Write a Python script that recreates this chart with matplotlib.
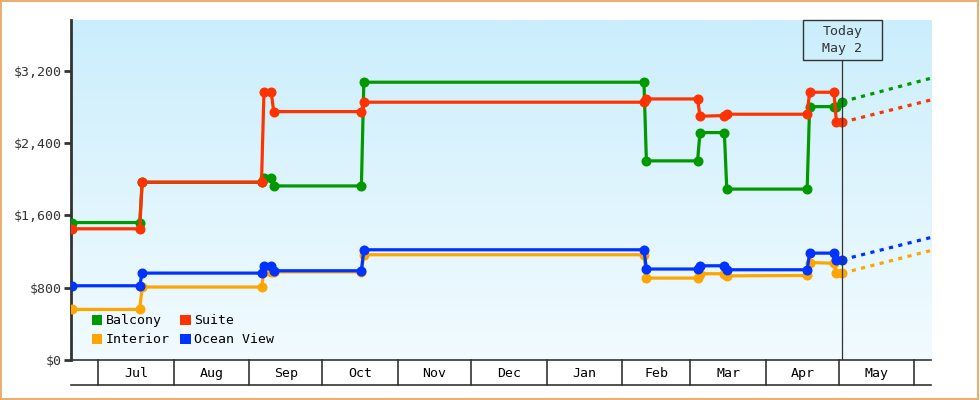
import matplotlib
matplotlib.use("Agg")
import matplotlib.pyplot as plt
import matplotlib.dates as mdates
from matplotlib.patches import Rectangle, Patch
from matplotlib.colors import LinearSegmentedColormap
import numpy as np
import pandas as pd

# --- data ---
dates = pd.to_datetime([
    "2022-06-20", "2022-07-18", "2022-07-19", "2022-09-06", "2022-09-07",
    "2022-09-10", "2022-09-11", "2022-10-17", "2022-10-18", "2023-02-10",
    "2023-02-11", "2023-03-04", "2023-03-05", "2023-03-15", "2023-03-16",
    "2023-04-18", "2023-04-19", "2023-04-29", "2023-04-30", "2023-05-02 12:00",
], format="ISO8601")
balcony = [1520, 1520, 1965, 1965, 2015, 2015, 1925, 1925, 3072, 3072,
           2202, 2202, 2515, 2515, 1890, 1890, 2802, 2802, 2802, 2858]
suite = [1451, 1451, 1967, 1967, 2961, 2961, 2747, 2747, 2851, 2851,
         2887, 2887, 2696, 2703, 2718, 2718, 2961, 2961, 2630, 2630]
interior = [559, 559, 807, 807, 972, 972, 975, 975, 1164, 1164,
            906, 906, 954, 954, 930, 935, 1078, 1070, 961, 961]
ocean_view = [821, 821, 961, 961, 1042, 1042, 987, 987, 1219, 1219,
              1006, 1006, 1042, 1042, 998, 998, 1182, 1182, 1110, 1110]

today = pd.Timestamp("2023-05-02 12:00")
today_label = "Today\nMay 2"
forecast_date = pd.Timestamp("2023-06-07 20:00")
forecast = {"Balcony": 3116, "Suite": 2876, "Interior": 1211, "Ocean View": 1355}

series = {"Balcony": balcony, "Suite": suite, "Interior": interior, "Ocean View": ocean_view}
colors = {"Balcony": "#009900", "Suite": "#ff3300", "Interior": "#ffa500", "Ocean View": "#0033ff"}

yticks = [0, 800, 1600, 2400, 3200]
x_start = pd.Timestamp("2022-06-19 19:00")
x_end = forecast_date

mono = "DejaVu Sans Mono"
dark = "#333333"

fig = plt.figure(figsize=(9.8, 4.0), dpi=100)
ax = fig.add_axes([71 / 980, 40 / 400, 860 / 980, 340 / 400])

# gradient background
cmap = LinearSegmentedColormap.from_list("bg", ["#cbeefc", "#f2fbff"])
ax.imshow(np.linspace(0, 1, 256).reshape(-1, 1), cmap=cmap, aspect="auto",
          extent=[0, 1, 0, 1], transform=ax.transAxes, zorder=0)

# draw order: orange, blue under green/red like the reference
for name in ["Interior", "Ocean View", "Balcony", "Suite"]:
    vals = series[name]
    ax.plot(dates, vals, color=colors[name], lw=2.3, marker="o", ms=6.2,
            solid_joinstyle="miter", zorder=3)
    ax.plot([dates[-1], forecast_date], [vals[-1], forecast[name]],
            color=colors[name], lw=2.3, dashes=(1.3, 1.7), zorder=3)

ax.set_xlim(x_start, x_end)
ax.set_ylim(0, 3760)

# y axis
ax.set_yticks(yticks)
ax.set_yticklabels(["${:,}".format(v) for v in yticks], fontfamily=mono,
                   fontsize=9.5, color=dark)
ax.tick_params(axis="y", length=5, width=2, color=dark, pad=2)
ax.set_xticks([])
for s in ["top", "right"]:
    ax.spines[s].set_visible(False)
ax.spines["left"].set_color(dark)
ax.spines["left"].set_linewidth(2)
ax.spines["bottom"].set_color(dark)
ax.spines["bottom"].set_linewidth(1.2)

# month band below the axis
band = 25 / 340
trans = ax.get_xaxis_transform()
ax.plot([0, 1], [-band, -band], transform=ax.transAxes, color=dark, lw=1.2,
        clip_on=False)
months = pd.date_range("2022-07-01", "2023-06-01", freq="MS")
for i, m in enumerate(months):
    ax.plot([m, m], [0, -band], transform=trans, color=dark, lw=1.2, clip_on=False)
    if i + 1 < len(months):
        mid = m + (months[i + 1] - m) / 2
        ax.text(mid, -band / 2 - 0.004, m.strftime("%b"), transform=trans, ha="center",
                va="center", fontfamily=mono, fontsize=9.5, color="black")

# today marker
box_h = 40 / 340
ax.plot([today, today], [0, 1 - box_h], transform=trans, color=dark, lw=0.9, zorder=4)
tx = mdates.date2num(today)
half_w = 40 / 2.4375
ax.add_patch(Rectangle((tx - half_w, 1 - box_h), 2 * half_w, box_h, transform=trans,
                       facecolor="none", edgecolor=dark, lw=1.0, zorder=5,
                       clip_on=False))
ax.text(today, 1 - box_h / 2, today_label, transform=trans, ha="center", va="center",
        fontfamily=mono, fontsize=9.5, color=dark, linespacing=1.35, zorder=5)

# legend
order = ["Balcony", "Interior", "Suite", "Ocean View"]
handles = [Patch(facecolor=colors[n], edgecolor="none", label=n) for n in order]
ax.legend(handles=handles, ncol=2, loc="lower left", bbox_to_anchor=(0.018, 0.025),
          frameon=False, handlelength=0.8, handleheight=0.8, handletextpad=0.25,
          columnspacing=0.8, labelspacing=0.45, borderaxespad=0,
          prop={"family": mono, "size": 9.5})

# outer border
fig.patches.append(Rectangle((0.001, 0.002), 0.997, 0.996, transform=fig.transFigure,
                             fill=False, edgecolor="#e8b070", lw=1.5))

fig.savefig("out.png", dpi=100)
